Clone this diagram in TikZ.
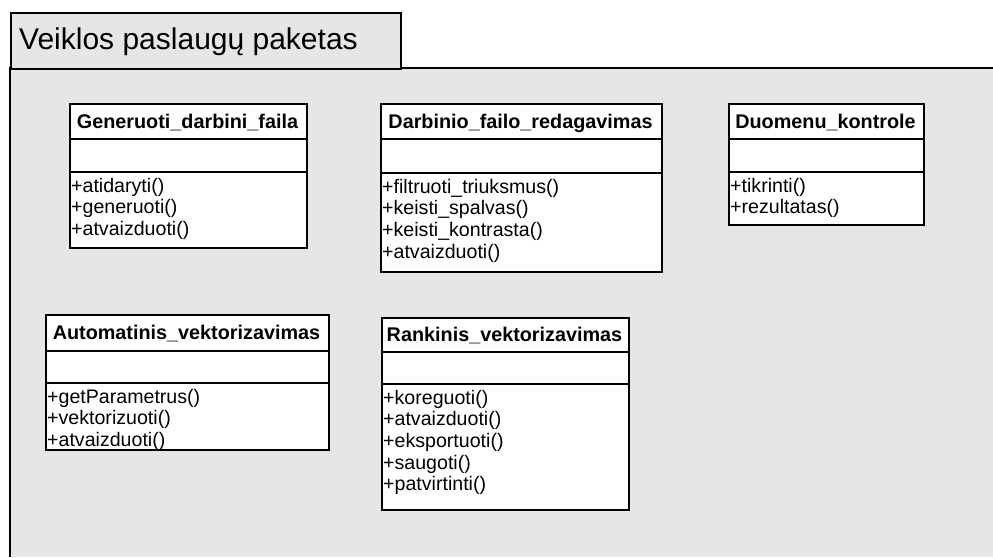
\documentclass[tikz,border=0pt]{standalone}
\usepackage{fontspec}
\setmainfont{Liberation Sans}
\definecolor{pkgfill}{HTML}{E6E6E6}
\tikzset{
  pkgline/.style={draw=black, line width=1.5pt},
  clsbox/.style={draw=black, fill=white, line width=1.5pt, inner sep=0pt},
  clsline/.style={draw=black, line width=1.5pt},
  clstitle/.style={font=\fontsize{19.8}{22}\selectfont\bfseries, inner sep=0pt, anchor=base},
  clsop/.style={font=\fontsize{19.6}{22}\selectfont, inner sep=0pt, anchor=base west},
}
% #1 name, #2 left, #3 top, #4 right, #5 title bottom, #6 attribute bottom,
% #7 bottom, #8 class name, #9 list of operations
\newcommand{\umlcls}[9]{%
  \node[clsbox, anchor=north west, minimum width={#4pt-#2pt}, minimum height={#7pt-#3pt}] (#1) at (#2,#3) {};
  \draw[clsline] (#1.north west |- 0,#5) -- (#1.north east |- 0,#5);
  \draw[clsline] (#1.north west |- 0,#6) -- (#1.north east |- 0,#6);
  \node[clstitle] (#1-t) at ({(#2+#4)/2},{(#3+#5)/2+7}) {#8};
  \foreach \m [count=\i] in {#9}
    \node[clsop] (#1-m\i) at (#2+2,{#6+20+(\i-1)*21.7}) {\m};
}
\begin{document}
\begin{tikzpicture}[x=1pt,y=-1pt]
  \useasboundingbox (0,0) rectangle (993,557);
  % package body and tab
  \fill[pkgfill] (10,68) rectangle (993,557);
  \draw[pkgline] (993,68) -- (10,68) -- (10,557);
  \node[pkgline, fill=pkgfill, anchor=north west, minimum width=390pt, minimum height=56pt, inner sep=0pt] (tab) at (10,12) {};
  \node[font=\fontsize{30}{34}\selectfont, anchor=base west, inner sep=0pt] (pkgname) at (19,49) {Veiklos paslaugų paketas};
  % classes
  \umlcls{gen}{69}{103}{306}{139}{172}{247}{Generuoti\_darbini\_faila}
    {+atidaryti(), +generuoti(), +atvaizduoti()}
  \umlcls{red}{380}{103}{661}{139}{173}{271}{Darbinio\_failo\_redagavimas}
    {+filtruoti\_triuksmus(), +keisti\_spalvas(), +keisti\_kontrasta(), +atvaizduoti()}
  \umlcls{kon}{728}{103}{923}{139}{172}{224}{Duomenu\_kontrole}
    {+tikrinti(), +rezultatas()}
  \umlcls{aut}{45}{314}{328}{351}{383}{449}{Automatinis\_vektorizavimas}
    {+getParametrus(), +vektorizuoti(), +atvaizduoti()}
  \umlcls{ran}{381}{317}{628}{352}{384}{509}{Rankinis\_vektorizavimas}
    {+koreguoti(), +atvaizduoti(), +eksportuoti(), +saugoti(), +patvirtinti()}
\end{tikzpicture}
\end{document}
